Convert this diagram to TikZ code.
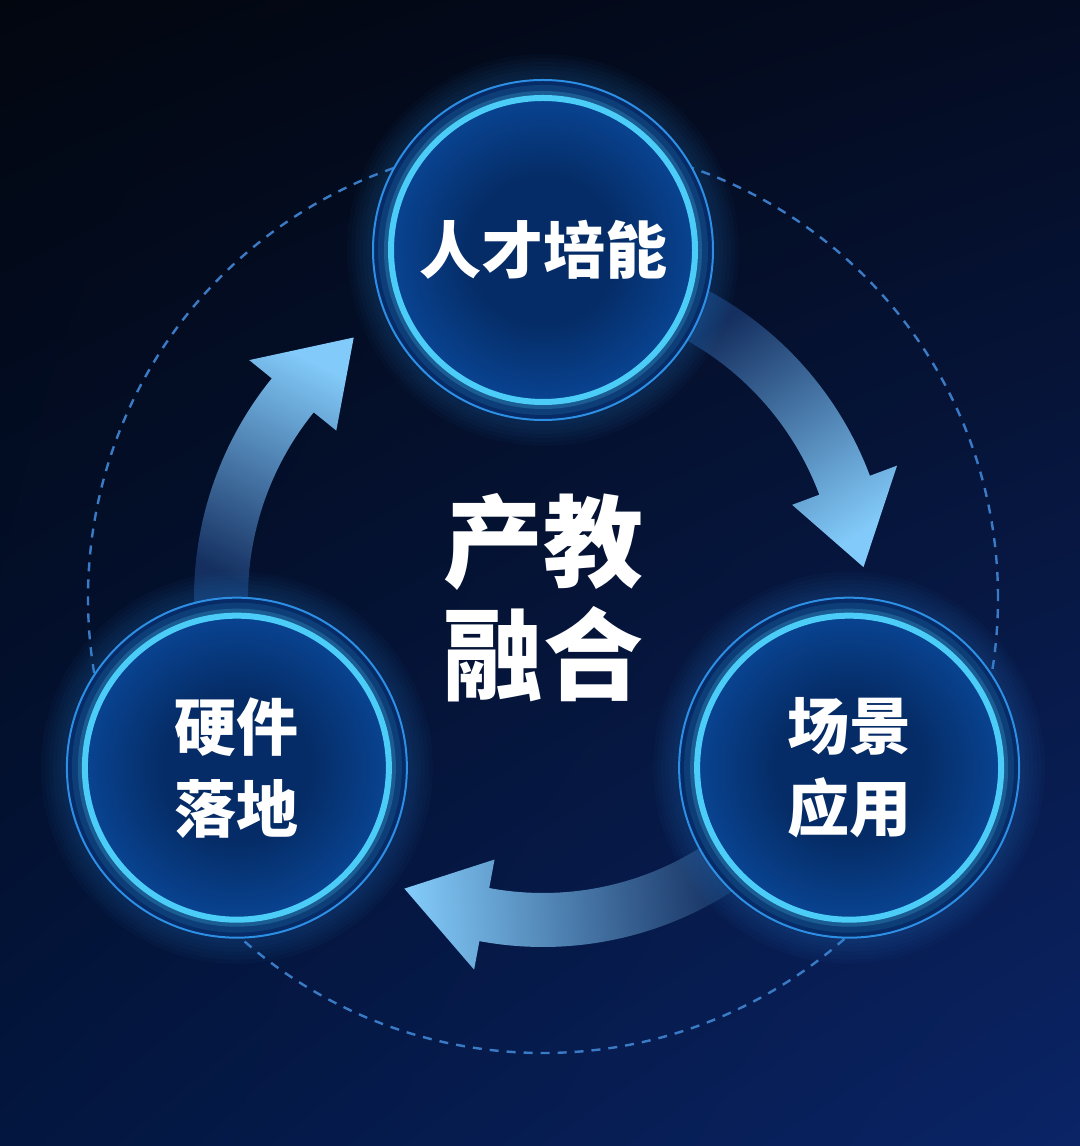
\documentclass[tikz,border=0pt]{standalone}
\usepackage{fontspec}
\newfontfamily\cjk{Noto Sans CJK SC}
\usetikzlibrary{calc,shadings}

\definecolor{bgul}{HTML}{02060F}
\definecolor{bgur}{HTML}{040C22}
\definecolor{bgll}{HTML}{03163F}
\definecolor{bglr}{HTML}{0A2466}
\definecolor{ringcyan}{HTML}{4BCDF8}
\definecolor{ringblue}{HTML}{2C8FE4}
\definecolor{bandblue}{HTML}{062B66}
\definecolor{coreblue}{HTML}{052C66}
\definecolor{rimblue}{HTML}{0E62CA}
\definecolor{dashblue}{HTML}{3B7BC6}
\definecolor{arrowdark}{HTML}{142F60}
\definecolor{arrowlight}{HTML}{82CAF9}

\pgfdeclareradialshading{bubbleshade}{\pgfpoint{0bp}{0bp}}{%
  color(0bp)=(coreblue); color(12bp)=(coreblue); color(42bp)=(rimblue); color(50bp)=(rimblue)}

\tikzset{
  bubble/.style={circle, minimum size=152pt, inner sep=0pt,
    shade, shading=bubbleshade, draw=ringcyan, line width=3pt,
    text=white, align=center, font=\cjk\bfseries\fontsize{31}{41}\selectfont},
  hubtext/.style={text=white, align=center,
    font=\cjk\bfseries\fontsize{50}{56.5}\selectfont},
}

\begin{document}
\begin{tikzpicture}[x=0.5pt, y=0.5pt]
    \useasboundingbox (0,0) rectangle (1080,1146);
    % Background
    \shade[upper left=bgul, upper right=bgur, lower left=bgll, lower right=bglr]
        (0,0) rectangle (1080,1146);
    \coordinate (hub) at (543,548);
    \coordinate (pT) at ($(hub)+(90:348)$);
    \coordinate (pL) at ($(hub)+(209:350)$);
    \coordinate (pR) at ($(hub)+(331:350)$);
    % Dashed orbit
    \draw[dashblue, line width=1.2pt, dash pattern=on 4.5pt off 4pt] (hub) circle[radius=455];
    % Arrows
    \foreach \s/\b/\t in {62/20.5/5.5, 303/259.5/244.5, 181/141/126}
    {
    \pgfmathsetmacro\g{(\s+\t)/2-180}
    \shade[top color=arrowlight, bottom color=arrowdark, shading angle=\g, shift={(hub)}]
        (\s:349) arc[start angle=\s, end angle=\b, radius=349]
        -- (\b:378) -- (\t:322) -- (\b:266) -- (\b:295)
        arc[start angle=\b, end angle=\s, radius=295] -- cycle;
    }
    % Glow and rings
    \foreach \p in {pT,pL,pR}
    {
    \foreach \k in {1,...,6}
        \fill[ringblue, opacity=0.035] (\p) circle[radius=172+4*\k];
    \fill[bandblue] (\p) circle[radius=170];
    \draw[ringblue, line width=1pt] (\p) circle[radius=170];
    \draw[ringcyan, opacity=0.12, line width=13pt] (\p) circle[radius=152];
    \draw[ringcyan, opacity=0.22, line width=7pt] (\p) circle[radius=152];
    }
    % Stages
    \node[bubble] (talent) at (pT) {人才培能};
    \node[bubble] (hardware) at (pL) {硬件\\落地};
    \node[bubble] (scene) at (pR) {场景\\应用};
    \node[hubtext] (core) at (hub) {产教\\融合};
\end{tikzpicture}
\end{document}
